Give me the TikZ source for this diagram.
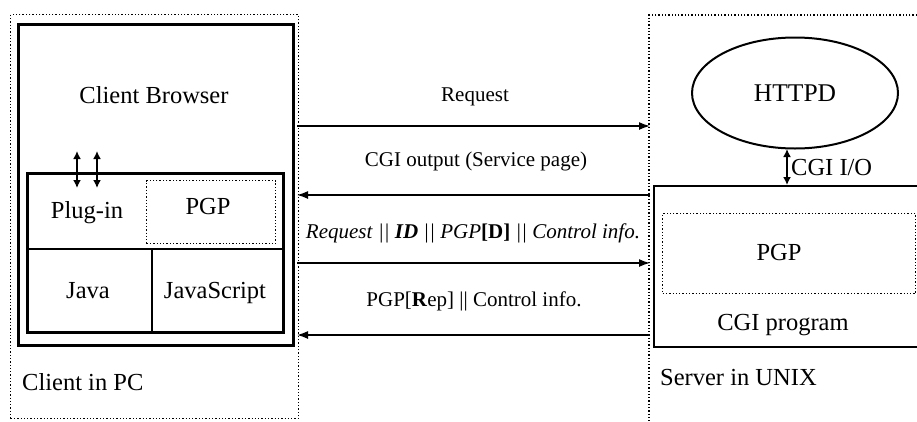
\documentclass[tikz,border=0pt]{standalone}
\usepackage{fontspec}
\setmainfont{Liberation Serif}
\usetikzlibrary{arrows.meta,shapes.geometric}
\begin{document}
\begin{tikzpicture}[x=1pt,y=-1pt,
 dotbox/.style={draw, line width=1.3pt, dash pattern=on 1.3pt off 2pt, inner sep=0pt},
 dotline/.style={line width=1.3pt, dash pattern=on 1.3pt off 2pt},
 solidbox/.style={draw, line width=2.5pt, inner sep=0pt},
 solidline/.style={line width=2.5pt},
 msg/.style={-{Latex[length=11pt,width=8pt]}, line width=1.5pt},
 dbl/.style={{Latex[length=8pt,width=8pt]}-{Latex[length=8pt,width=8pt]}, line width=1.8pt},
 lbl/.style={font=\fontsize{21}{24}\selectfont, inner sep=0pt, text height=13.9pt, text depth=0pt},
 big/.style={font=\fontsize{24.5}{28}\selectfont, inner sep=0pt, text height=16.2pt, text depth=0pt}]
\useasboundingbox (0,0) rectangle (917,421);
% client side
\node[dotbox, minimum width=288pt, minimum height=404pt, anchor=north west] (pc) at (10,14) {};
\node[solidbox, minimum width=275pt, minimum height=321pt, anchor=north west] (browser) at (17,23) {};
\node[solidbox, minimum width=256pt, minimum height=159pt, anchor=north west] (inner) at (26,172) {};
\draw[solidline] (26,249) -- (282,249);
\draw[solidline] (152,249) -- (152,331);
\node[dotbox, minimum width=129pt, minimum height=63pt, anchor=north west] (cpgp) at (146,180) {};
\node[big] (cb) at (154,95) {Client Browser};
\node[big] (plug) at (87,210) {Plug-in};
\node[big] at (208,206) (cpgptext) {PGP};
\node[big] (java) at (88,290) {Java};
\node[big] (js) at (215,290) {JavaScript};
\node[big, anchor=west] (cpc) at (22,382) {Client in PC};
\coordinate (d1a) at (77,151); \coordinate (d1b) at (77,188);
\coordinate (d2a) at (97,151); \coordinate (d2b) at (97,188);
\draw[dbl] (d1a) -- (d1b);
\draw[dbl] (d2a) -- (d2b);
% server side
\draw[dotline] (917,15) -- (649,15) -- (649,421);
\draw[solidline] (917,186) -- (654,186) -- (654,347) -- (917,347);
\node[dotbox, minimum width=253pt, minimum height=80pt, anchor=north west] (spgp) at (662,213) {};
\node[big] (spgptext) at (779,252) {PGP};
\node[big] (cgip) at (783,322) {CGI program};
\node[font=\fontsize{25.5}{29}\selectfont, inner sep=0pt, text height=16.9pt, text depth=0pt, draw, ellipse, line width=2pt, minimum width=206pt, minimum height=111pt] (httpd) at (795,93) {HTTPD};
\coordinate (cgitop) at (787,185);
\coordinate (httpdbot) at (787,149);
\draw[dbl] (httpdbot) -- (cgitop);
\node[big, anchor=west] (cgiio) at (791,167) {CGI I/O};
\node[big, anchor=west] (unix) at (660,377) {Server in UNIX};
% messages
\coordinate (l1) at (297,126); \coordinate (r1) at (650,126);
\coordinate (l2) at (297,195); \coordinate (r2) at (650,195);
\coordinate (l3) at (297,263); \coordinate (r3) at (650,263);
\coordinate (l4) at (297,335); \coordinate (r4) at (650,335);
\draw[msg] (l1) -- (r1);
\draw[msg] (r2) -- (l2);
\draw[msg] (l3) -- (r3);
\draw[msg] (r4) -- (l4);
\node[lbl] (m1) at (475,95) {Request};
\node[lbl] (m2) at (476,160) {CGI output (Service page)};
\node[lbl] (m3) at (473,232) {\textit{Request} \textit{||} \textbf{\textit{ID}} \textit{||} \textit{PGP}\textbf{[D]} \textit{||} \textit{Control info.}};
\node[lbl] (m4) at (474,300) {PGP[\textbf{R}ep] || Control info.};
\end{tikzpicture}
\end{document}
